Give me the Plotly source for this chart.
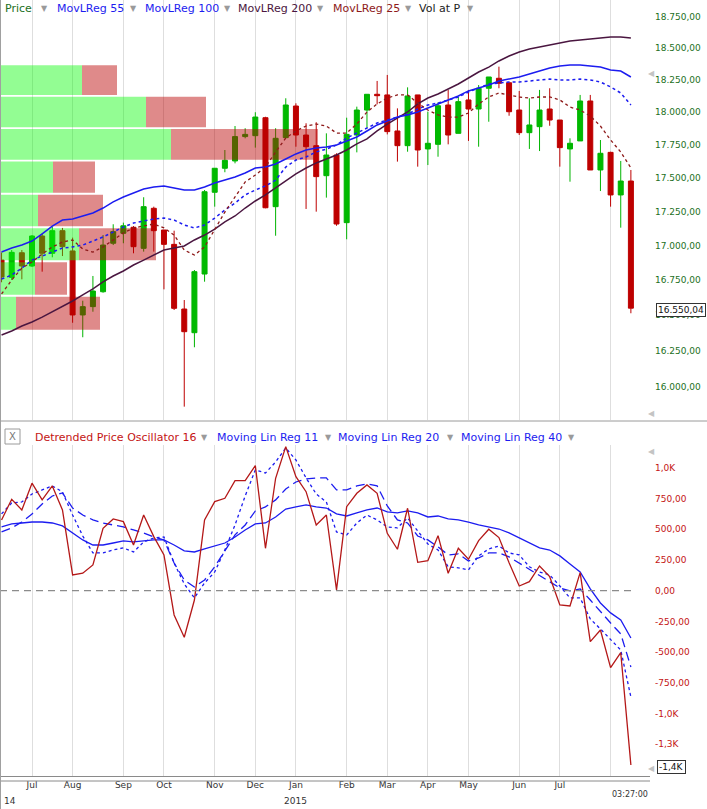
import pandas as pd
import plotly.graph_objects as go

# ---------------- data ----------------
weeks = pd.date_range("2014-06-13", "2015-08-21", freq="W-FRI")
dates = [d.strftime("%Y-%m-%d") for d in weeks]

open_ = [16895,16770,16948,16852,17070,16944,17109,16961,16502,16561,16667,17017,17090,17134,16980,17274,17114,17009,16544,16377,
         16794,17393,17573,17628,17813,17820,17958,17286,17805,18048,17825,17744,17517,17673,17168,17825,18017,18139,18134,17856,
         17744,18134,17719,17754,18056,17838,18095,18025,18186,18264,18229,18017,17843,17889,18025,17940,17719,17780,18087,17560,
         17693,17373,17477]
high = [16950,16968,16968,17077,17090,17138,17129,17058,16603,16780,17077,17156,17168,17143,17356,17286,17114,17109,16608,16823,
        17410,17573,17711,17894,17877,18000,17965,17877,18108,18069,17915,17923,17838,17686,17958,18043,18139,18243,18290,18030,
        18193,18134,18004,18077,18173,18120,18173,18211,18274,18355,18229,18165,18108,18173,18186,17940,17800,18134,18134,17787,
        17698,17628,17560]
low = [16735,16751,16756,16845,16811,16915,16924,16447,16345,16525,16660,17004,17017,16944,16956,16956,16684,16537,15866,16275,
       16739,17286,17543,17610,17800,17729,17274,17072,17800,17736,17269,17249,17353,17145,17046,17693,17881,18061,17830,17623,
       17698,17585,17597,17660,17754,17838,17780,17736,17927,18186,17973,17825,17719,17703,17896,17585,17472,17780,17560,17402,
       17286,17131,16514]
close = [16773,16951,16852,17070,16944,17109,16992,16502,16561,16672,17004,17102,17145,16992,17286,17109,17009,16549,16384,16811,
         17397,17573,17633,17813,17830,17963,17278,17800,18056,17825,17736,17510,17673,17158,17830,18017,18139,18128,17851,17744,
         18126,17711,17762,18050,17825,18082,18025,18186,18274,18225,18004,17843,17902,18017,17940,17729,17762,18087,17560,17686,
         17373,17477,16550.04]

movlreg25 = [16651,16751,16837,16881,16939,16990,17026,17041,16975,16953,16990,17041,17092,17129,17143,17158,17129,17077,16968,16931,
             16990,17114,17246,17358,17470,17522,17582,17696,17802,17856,17894,17909,17894,17840,17840,17909,18002,18064,18110,18134,
             18134,18071,18017,17979,17963,17963,17994,18064,18118,18149,18134,18118,18110,18118,18118,18095,18040,18017,17971,17894,
             17787,17696,17575]
movlreg55 = [16953,16982,17004,17033,17085,17143,17187,17195,17217,17239,17276,17321,17358,17387,17417,17432,17440,17425,17410,17410,
             17432,17462,17484,17507,17537,17575,17582,17605,17643,17681,17711,17726,17734,17749,17779,17810,17856,17902,17933,17963,
             17979,18002,18033,18064,18095,18126,18165,18188,18211,18243,18258,18274,18298,18321,18345,18360,18368,18368,18360,18352,
             18329,18321,18274]
movlreg100 = [16758,16787,16837,16895,16924,16953,16982,16990,17004,17033,17063,17099,17136,17165,17180,17195,17202,17187,17151,17129,
              17151,17202,17261,17313,17373,17410,17440,17484,17582,17635,17658,17696,17718,17749,17802,17840,17879,17917,17940,17963,
              17986,18025,18056,18071,18095,18118,18157,18188,18219,18227,18235,18235,18243,18251,18258,18251,18251,18258,18251,18235,
              18196,18149,18056]
movlreg200 = [16361,16389,16424,16452,16487,16523,16565,16601,16644,16687,16737,16780,16816,16859,16895,16931,16968,16982,16997,17041,
              17077,17121,17173,17217,17276,17328,17373,17425,17477,17530,17575,17613,17643,17673,17711,17757,17795,17856,17909,17956,
              18002,18064,18110,18141,18180,18219,18266,18313,18352,18400,18439,18471,18495,18510,18526,18542,18558,18566,18574,18582,
              18590,18590,18582]

# volume at price (arbitrary volume units), bins from low to high price
vap_edges = [16390, 16638, 16886, 17134, 17382, 17630, 17878, 18126, 18374]
vap_up = [16, 35, 79, 38, 53, 171, 146, 82]
vap_down = [84, 32, 77, 65, 42, 147, 60, 35]

dpo16 = [576,744,657,875,739,853,657,128,142,209,508,584,562,372,616,440,291,-198,-379,-76,
         576,725,752,896,896,1018,345,915,1173,928,806,535,616,6,684,793,861,793,467,337,
         671,231,244,448,142,345,256,407,500,432,228,38,73,201,114,-116,-125,147,-415,-320,
         -627,-505,-1419]
mlr11 = [625,714,722,787,820,853,804,616,445,307,307,332,348,315,397,429,437,225,55,-59,
         63,152,332,535,771,983,958,1048,1162,1064,918,787,722,478,453,551,616,576,519,511,
         592,486,380,331,194,186,169,283,340,364,307,291,194,152,128,38,-59,-59,-230,-312,
         -401,-483,-866]
mlr20 = [478,511,559,625,706,771,796,673,616,576,551,535,519,494,470,437,413,225,87,30,
         87,194,324,454,535,649,682,739,828,885,910,918,918,820,820,853,869,853,690,576,
         551,445,413,356,291,299,242,266,307,307,275,225,177,128,71,22,-2,14,-76,-173,
         -263,-352,-622]
mlr40 = [519,543,551,559,559,551,527,470,413,372,372,388,405,397,405,413,413,372,324,315,
         340,364,388,437,494,543,551,600,665,682,698,682,673,625,608,633,657,673,641,633,
         649,633,600,608,584,576,559,535,519,502,470,429,388,348,331,283,217,152,14,-100,
         -181,-239,-385]

price_ticks = [16000, 16250, 16500, 16750, 17000, 17250, 17500, 17750, 18000, 18250, 18500, 18750]
osc_ticks = [1000, 750, 500, 250, 0, -250, -500, -750, -1000, -1250]
osc_tick_text = ["1,0K", "750,00", "500,00", "250,00", "0,00", "-250,00", "-500,00", "-750,00", "-1,0K", "-1,3K"]
month_names = ["Jan", "Feb", "Mar", "Apr", "May", "Jun", "Jul", "Aug", "Sep", "Oct", "Nov", "Dec"]

# ---------------- helpers ----------------
def eur(v):
    return f"{v:,.2f}".replace(",", "X").replace(".", ",").replace("X", ".")

xs = list(range(len(dates)))
month_idx = [k for k in range(1, len(dates)) if dates[k][5:7] != dates[k - 1][5:7]]
month_txt = [month_names[int(dates[k][5:7]) - 1] for k in month_idx]
month_txt[-1] = ""  # last month start too close to the edge to be labelled

W, H = 707, 809
ML, MR, MT, MB = 0, 62, 0, 33
PW, PH = W - ML - MR, H - MT - MB

def px(x):
    return x / PW

def py(y):
    return (PH - y) / PH

XR = [-0.153, 63.39]
GRID = "#DEDEDE"
FONT = "DejaVu Sans"
GREEN_TXT = "#237023"
RED_TXT = "#C41414"
BLUE = "#1C1CF0"

fig = go.Figure()

# candles
fig.add_trace(go.Candlestick(
    x=xs, open=open_, high=high, low=low, close=close,
    increasing=dict(line=dict(color="#00B400", width=1), fillcolor="#00BA00"),
    decreasing=dict(line=dict(color="#BE0000", width=1), fillcolor="#BE0000"),
    whiskerwidth=0, showlegend=False, hoverinfo="skip", xaxis="x", yaxis="y"))

# volume at price overlay
gx, gy, rx, ry = [], [], [], []
for lo, hi, up, dn in zip(vap_edges[:-1], vap_edges[1:], vap_up, vap_down):
    y0, y1 = lo + 7, hi - 7
    gx += [0, up, up, 0, 0, None]
    gy += [y0, y0, y1, y1, y0, None]
    rx += [up, up + dn, up + dn, up, up, None]
    ry += [y0, y0, y1, y1, y0, None]
fig.add_trace(go.Scatter(x=gx, y=gy, mode="lines", fill="toself", fillcolor="rgba(10,250,10,0.44)",
                         line=dict(width=0, color="rgba(0,0,0,0)"), hoverinfo="skip",
                         showlegend=False, xaxis="x3", yaxis="y"))
fig.add_trace(go.Scatter(x=rx, y=ry, mode="lines", fill="toself", fillcolor="rgba(185,0,0,0.46)",
                         line=dict(width=0, color="rgba(0,0,0,0)"), hoverinfo="skip",
                         showlegend=False, xaxis="x3", yaxis="y"))

# moving linear regressions on price
for ys, col, dash, w in [(movlreg200, "#4A1640", "solid", 1.5),
                         (movlreg55, BLUE, "solid", 1.5),
                         (movlreg100, BLUE, "3px,3px", 1.5),
                         (movlreg25, "#8E1A1A", "3px,3px", 1.3)]:
    fig.add_trace(go.Scatter(x=xs, y=ys, mode="lines", line=dict(color=col, width=w, dash=dash),
                             hoverinfo="skip", showlegend=False, xaxis="x4", yaxis="y"))

# oscillator pane
for ys, col, dash, w in [(mlr40, BLUE, "solid", 1.3),
                         (mlr20, BLUE, "9px,5px", 1.3),
                         (mlr11, BLUE, "3px,3px", 1.3),
                         (dpo16, "#B41818", "solid", 1.3)]:
    fig.add_trace(go.Scatter(x=xs, y=ys, mode="lines", line=dict(color=col, width=w, dash=dash),
                             hoverinfo="skip", showlegend=False, xaxis="x2", yaxis="y2"))

dom_price = [py(420), 1]
dom_osc = [0, py(445)]

xcommon = dict(range=XR, tickvals=month_idx, showgrid=True, gridcolor=GRID, gridwidth=1,
               zeroline=False, showline=False, ticks="", fixedrange=True)
fig.update_layout(
    width=W, height=H, margin=dict(l=ML, r=MR, t=MT, b=MB),
    paper_bgcolor="white", plot_bgcolor="white", showlegend=False, hovermode=False,
    font=dict(family=FONT, size=10, color="#333"),
    xaxis=dict(**xcommon, anchor="y", showticklabels=False, rangeslider=dict(visible=False)),
    xaxis2=dict(**xcommon, anchor="y2", ticktext=month_txt, showticklabels=True,
                ticklabelstandoff=2, tickfont=dict(family=FONT, size=9, color="#333")),
    xaxis3=dict(range=[0, PW], overlaying="x", anchor="y", visible=False, fixedrange=True),
    xaxis4=dict(range=XR, overlaying="x", anchor="y", visible=False, fixedrange=True),
    yaxis=dict(domain=dom_price, type="log", range=[4.197983, 4.276165], side="right",
               tickvals=price_ticks, ticktext=[eur(v) for v in price_ticks],
               tickfont=dict(family=FONT, size=9, color=GREEN_TXT), showgrid=False,
               zeroline=False, ticks="", ticklabelstandoff=9, fixedrange=True),
    yaxis2=dict(domain=dom_osc, range=[-1509, 1186], side="right",
                tickvals=osc_ticks, ticktext=osc_tick_text,
                tickfont=dict(family=FONT, size=9, color=RED_TXT), showgrid=False,
                zeroline=False, ticks="", ticklabelstandoff=9, fixedrange=True),
)

shapes = [
    dict(type="line", xref="x2 domain", yref="y2", x0=0, x1=632 / PW, y0=0, y1=0,
         line=dict(color="#8C8C8C", width=1.2, dash="7px,5px")),
    dict(type="line", xref="paper", yref="paper", x0=0, x1=W / PW, y0=py(421), y1=py(421),
         line=dict(color="#9A9A9A", width=1)),
    dict(type="line", xref="paper", yref="paper", x0=0, x1=650 / PW, y0=py(776.5), y1=py(776.5),
         line=dict(color="#8A8A8A", width=1)),
    dict(type="line", xref="paper", yref="paper", x0=0, x1=650 / PW, y0=py(781), y1=py(781),
         line=dict(color="#8A8A8A", width=1)),
    dict(type="line", xref="paper", yref="paper", x0=0.5 / PW, x1=0.5 / PW, y0=py(0), y1=py(H),
         line=dict(color="#A0A0A0", width=1)),
    # close box in the oscillator header
    dict(type="rect", xref="paper", yref="paper", x0=px(5), x1=px(20), y0=py(444), y1=py(429),
         line=dict(color="#9A9A9A", width=1), fillcolor="white"),
]
fig.update_layout(shapes=shapes)

ann = []
def text(x, y, s, color, size=11, xanchor="left", **kw):
    ann.append(dict(x=px(x), y=py(y), xref="paper", yref="paper", text=s, showarrow=False,
                    xanchor=xanchor, yanchor="middle", font=dict(family=FONT, size=size, color=color), **kw))

arrow = "#9A9A9A"
for x, s, c in [(3, "Price", GREEN_TXT), (55, "MovLReg 55", BLUE), (143, "MovLReg 100", BLUE),
                (236, "MovLReg 200", "#4A1640"), (331, "MovLReg 25", "#8E1A1A"), (417, "Vol at P", "#222")]:
    text(x, 9, s, c)
for x in [39, 128, 222, 315, 403, 465]:
    text(x, 9, "▼", arrow, size=8)

text(12.5, 436.5, "X", "#777", size=10, xanchor="center")
for x, s in [(33, "Detrended Price Oscillator 16"), (215, "Moving Lin Reg 11"),
             (336, "Moving Lin Reg 20"), (459, "Moving Lin Reg 40")]:
    text(x, 437, s, RED_TXT if s.startswith("Detrended") else BLUE)
for x in [199, 323, 445, 566]:
    text(x, 437, "▼", arrow, size=8)

# last values on the axes
text(681, 310, eur(close[-1]), "#111", size=9, xanchor="center", bordercolor="#333", borderwidth=1,
     borderpad=1, bgcolor="white")
text(671, 767, f"{dpo16[-1] / 1000:.1f}K".replace(".", ","), "#111", size=9, xanchor="center",
     bordercolor="#333", borderwidth=1, borderpad=1, bgcolor="white")
for y in [73, 413, 452, 768]:
    text(651, y, "◀", "#C4C4C4", size=8, xanchor="center")

# bottom axis extras
text(2, 801, dates[0][2:4], "#333", size=9)
jan = [k for k, t in zip(month_idx, month_txt) if t == "Jan"][0]
text(1.55 + 10.15 * jan, 801, dates[jan][:4], "#333", size=9, xanchor="center")
text(630, 795, "03:27:00", "#333", size=8, xanchor="center")

fig.update_layout(annotations=ann)

fig.write_html("out.html", config={"displayModeBar": False, "staticPlot": True},
               post_script="document.body.style.margin='0';document.body.style.overflow='hidden';")
